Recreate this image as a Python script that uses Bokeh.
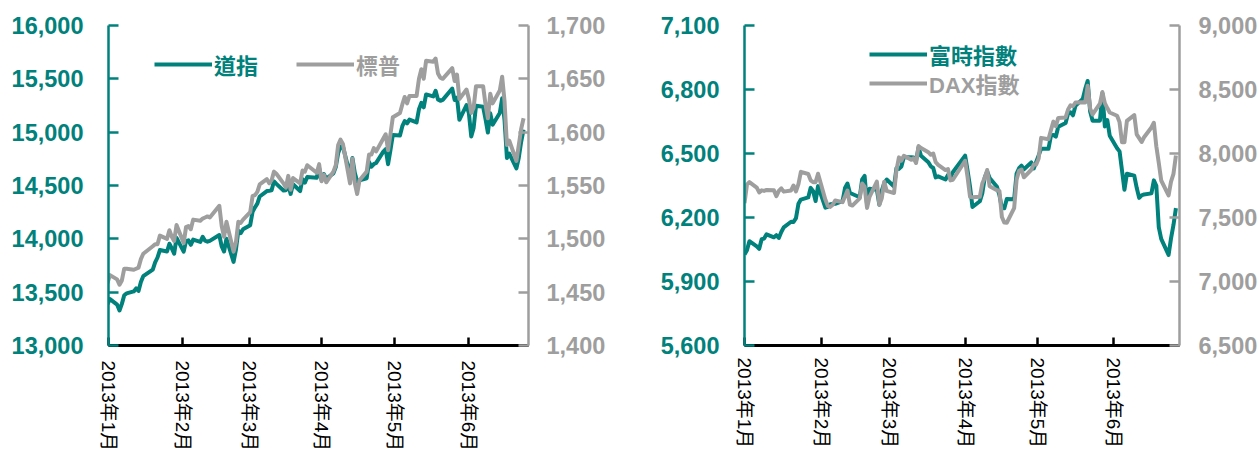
import numpy as np
import pandas as pd
from bokeh.plotting import figure
from bokeh.models import (Range1d, LinearAxis, FixedTicker, NumeralTickFormatter,
                          Legend, LegendItem, CustomJSTickFormatter)
from bokeh.layouts import row
from bokeh.embed import file_html
from bokeh.resources import INLINE

TEAL = "#00817C"
GRAY = "#9E9E9E"
FONT = "Liberation Sans, Noto Sans CJK TC"

# ---------------- data ----------------
us_dates = ["01-02", "01-03", "01-04", "01-07", "01-08", "01-09", "01-10", "01-11", "01-14", "01-15",
            "01-16", "01-17", "01-18", "01-22", "01-23", "01-24", "01-25", "01-28", "01-29", "01-30", "01-31",
            "02-01", "02-04", "02-05", "02-06", "02-07", "02-08", "02-11", "02-12", "02-13", "02-14",
            "02-15", "02-19", "02-20", "02-21", "02-22", "02-25", "02-26", "02-27", "02-28",
            "03-01", "03-04", "03-05", "03-06", "03-07", "03-08", "03-11", "03-12", "03-13", "03-14",
            "03-15", "03-18", "03-19", "03-20", "03-21", "03-22", "03-25", "03-26", "03-27", "03-28",
            "04-01", "04-02", "04-03", "04-04", "04-05", "04-08", "04-09", "04-10", "04-11", "04-12",
            "04-15", "04-16", "04-17", "04-18", "04-19", "04-22", "04-23", "04-24", "04-25", "04-26",
            "04-29", "04-30",
            "05-01", "05-02", "05-03", "05-06", "05-07", "05-08", "05-09", "05-10", "05-13", "05-14",
            "05-15", "05-16", "05-17", "05-20", "05-21", "05-22", "05-23", "05-24", "05-28", "05-29",
            "05-30", "05-31",
            "06-03", "06-04", "06-05", "06-06", "06-07", "06-10", "06-11", "06-12", "06-13", "06-14",
            "06-17", "06-18", "06-19", "06-20", "06-21", "06-24", "06-25", "06-26", "06-27"]
dow = [13412, 13391, 13435, 13384, 13328, 13390, 13471, 13488, 13507, 13535,
       13511, 13596, 13650, 13712, 13779, 13825, 13895, 13881, 13954, 13910, 13861,
       14009, 13880, 13979, 13986, 13944, 13993, 13971, 14019, 13982, 13973,
       13981, 14036, 13928, 13881, 14001, 13784, 13900, 14076, 14054,
       14090, 14128, 14254, 14296, 14329, 14397, 14448, 14451, 14455, 14539,
       14515, 14453, 14456, 14512, 14421, 14512, 14448, 14559, 14527, 14579,
       14573, 14662, 14550, 14607, 14565, 14614, 14673, 14803, 14866, 14865,
       14600, 14757, 14619, 14538, 14548, 14568, 14720, 14676, 14701, 14712,
       14818, 14840,
       14700, 14831, 14973, 14969, 15056, 15105, 15082, 15118, 15091, 15215,
       15275, 15233, 15354, 15335, 15388, 15307, 15294, 15303, 15409, 15302,
       15324, 15116,
       15254, 15177, 14960, 15040, 15248, 15238, 15122, 14996, 15177, 15070,
       15180, 15318, 15112, 14758, 14800, 14660, 14760, 14910, 15024]
sp500 = [1462, 1459, 1466, 1462, 1457, 1461, 1472, 1472, 1471, 1472,
         1473, 1481, 1486, 1493, 1495, 1495, 1503, 1500, 1508, 1502, 1498,
         1513, 1496, 1511, 1512, 1509, 1518, 1517, 1519, 1520, 1521,
         1520, 1531, 1512, 1502, 1516, 1488, 1497, 1516, 1515,
         1518, 1525, 1540, 1541, 1544, 1551, 1556, 1552, 1555, 1563,
         1561, 1552, 1548, 1559, 1546, 1557, 1552, 1564, 1563, 1569,
         1562, 1570, 1554, 1560, 1553, 1563, 1569, 1588, 1593, 1589,
         1552, 1575, 1552, 1542, 1555, 1563, 1579, 1579, 1585, 1582,
         1594, 1598,
         1583, 1598, 1614, 1618, 1626, 1633, 1627, 1634, 1634, 1650,
         1659, 1650, 1667, 1666, 1669, 1655, 1651, 1650, 1660, 1648,
         1654, 1631,
         1640, 1631, 1618, 1623, 1643, 1643, 1626, 1613, 1636, 1627,
         1639, 1652, 1629, 1588, 1592, 1573, 1588, 1603, 1613]

eu_dates = ["01-02", "01-03", "01-04", "01-07", "01-08", "01-09", "01-10", "01-11", "01-14", "01-15",
            "01-16", "01-17", "01-18", "01-21", "01-22", "01-23", "01-24", "01-25", "01-28", "01-29",
            "01-30", "01-31",
            "02-01", "02-04", "02-05", "02-06", "02-07", "02-08", "02-11", "02-12", "02-13", "02-14",
            "02-15", "02-18", "02-19", "02-20", "02-21", "02-22", "02-25", "02-26", "02-27", "02-28",
            "03-01", "03-04", "03-05", "03-06", "03-07", "03-08", "03-11", "03-12", "03-13", "03-14",
            "03-15", "03-18", "03-19", "03-20", "03-21", "03-22", "03-25", "03-26", "03-27", "03-28",
            "04-02", "04-03", "04-04", "04-05", "04-08", "04-09", "04-10", "04-11", "04-12", "04-15",
            "04-16", "04-17", "04-18", "04-19", "04-22", "04-23", "04-24", "04-25", "04-26", "04-29",
            "04-30",
            "05-01", "05-02", "05-03", "05-06", "05-07", "05-08", "05-09", "05-10", "05-13", "05-14",
            "05-15", "05-16", "05-17", "05-20", "05-21", "05-22", "05-23", "05-24", "05-27", "05-28",
            "05-29", "05-30", "05-31",
            "06-03", "06-04", "06-05", "06-06", "06-07", "06-10", "06-11", "06-12", "06-13", "06-14",
            "06-17", "06-18", "06-19", "06-20", "06-21", "06-24", "06-25", "06-26", "06-27"]
ftse = [6027, 6047, 6089, 6065, 6053, 6098, 6101, 6121, 6107, 6117,
        6104, 6132, 6154, 6180, 6179, 6197, 6264, 6284, 6294, 6339,
        6323, 6277,
        6347, 6246, 6250, 6262, 6263, 6264, 6277, 6338, 6359, 6315,
        6310, 6295, 6379, 6395, 6260, 6335, 6330, 6260, 6326, 6361,
        6378, 6345, 6432, 6428, 6439, 6483, 6483, 6481, 6466, 6529,
        6489, 6459, 6440, 6432, 6388, 6393, 6378, 6399, 6387, 6412,
        6490, 6420, 6345, 6249, 6276, 6313, 6387, 6416, 6385, 6344,
        6305, 6244, 6243, 6287, 6286, 6406, 6431, 6443, 6426, 6458,
        6430,
        6460, 6491, 6522, 6522, 6583, 6587, 6579, 6625, 6643, 6687,
        6693, 6679, 6723, 6756, 6803, 6840, 6697, 6654, 6654, 6783,
        6627, 6657, 6583,
        6525, 6510, 6420, 6330, 6405, 6396, 6339, 6292, 6304, 6308,
        6313, 6374, 6349, 6155, 6100, 6025, 6102, 6165, 6244]
dax = [7612, 7756, 7776, 7733, 7696, 7712, 7708, 7715, 7712, 7666,
       7708, 7728, 7702, 7711, 7750, 7704, 7760, 7857, 7840, 7790,
       7776, 7776,
       7842, 7638, 7590, 7583, 7600, 7633, 7620, 7664, 7710, 7600,
       7593, 7650, 7765, 7740, 7575, 7662, 7780, 7600, 7650, 7780,
       7708, 7691, 7870, 7970, 7945, 7982, 7952, 7963, 7926, 8058,
       8043, 8010, 7990, 8000, 7932, 7912, 7871, 7879, 7790, 7795,
       7943, 7817, 7662, 7658, 7662, 7765, 7810, 7871, 7744, 7713,
       7707, 7504, 7460, 7459, 7573, 7796, 7865, 7875, 7814, 7873,
       7914,
       7914, 7961, 8122, 8112, 8181, 8249, 8213, 8278, 8282, 8344,
       8377, 8369, 8398, 8400, 8398, 8530, 8352, 8305, 8389, 8480,
       8394, 8355, 8320,
       8295, 8245, 8087, 8087, 8255, 8300, 8150, 8120, 8090, 8127,
       8203, 8240, 8057, 7928, 7789, 7673, 7780, 7841, 7985]

month_labels = ["2013年1月", "2013年2月", "2013年3月", "2013年4月", "2013年5月", "2013年6月"]
# tick positions
left_ticks = ["2013-01-03 09:00", "2013-02-03 12:00", "2013-03-03 17:00",
              "2013-04-03 00:00", "2013-05-03 17:00", "2013-06-03 22:00"]
left_xlim = ["2013-01-03 09:00", "2013-06-29 02:00"]
right_ticks = ["2013-01-02 00:00", "2013-02-02 07:00", "2013-03-02 00:00",
               "2013-04-02 00:00", "2013-05-01 17:00", "2013-06-01 14:00"]
right_xlim = ["2013-01-02 00:00", "2013-06-28 11:00"]

dow_ticks = [13000, 13500, 14000, 14500, 15000, 15500, 16000]
sp_ticks = [1400, 1450, 1500, 1550, 1600, 1650, 1700]
ftse_ticks = [5600, 5900, 6200, 6500, 6800, 7100]
dax_ticks = [6500, 7000, 7500, 8000, 8500, 9000]

H = 454


def ms(s):
    return pd.Timestamp(s).value / 1e6


def style_y(ax, color, ticks, standoff):
    ax.ticker = FixedTicker(ticks=ticks)
    ax.formatter = NumeralTickFormatter(format="0,0")
    ax.axis_line_color = color
    ax.axis_line_width = 2.5
    ax.major_tick_line_color = color
    ax.major_tick_line_width = 2.5
    ax.major_tick_in = 10
    ax.major_tick_out = 0
    ax.minor_tick_line_color = None
    ax.major_label_text_color = color
    ax.major_label_text_font = "Liberation Sans"
    ax.major_label_text_font_style = "bold"
    ax.major_label_text_font_size = "23.5px"
    ax.major_label_standoff = standoff


def make_chart(width, borders, xlim, ticks, yl, yr, dates, s1, s2, t1, t2,
               ticks_l, ticks_r, standoff_r, legend_specs, x_standoff):
    bl, br, bt, bb = borders
    p = figure(width=width, height=H, x_axis_type="datetime",
               x_range=Range1d(ms(xlim[0]), ms(xlim[1])),
               y_range=Range1d(*yl),
               min_border_left=bl, min_border_right=br,
               min_border_top=bt, min_border_bottom=bb,
               toolbar_location=None, output_backend="svg",
               outline_line_color=None, background_fill_color="white",
               border_fill_color="white")
    p.extra_y_ranges = {"r": Range1d(*yr)}
    p.xgrid.visible = False
    p.ygrid.visible = False

    x = pd.to_datetime(["2013-" + d for d in dates])
    r1 = p.line(x, s1, line_width=4, color=TEAL, line_join="round")
    r2 = p.line(x, s2, line_width=4, color=GRAY, line_join="round", y_range_name="r")

    style_y(p.yaxis[0], TEAL, ticks_l, 25)
    ra = LinearAxis(y_range_name="r")
    style_y(ra, GRAY, ticks_r, standoff_r)
    p.add_layout(ra, "right")

    xa = p.xaxis[0]
    xa.ticker = FixedTicker(ticks=[ms(t) for t in ticks])
    xa.formatter = CustomJSTickFormatter(args=dict(labels=month_labels),
                                         code="return labels[index] || ''")
    xa.major_label_orientation = "vertical"
    xa.major_label_text_font = FONT
    xa.major_label_text_font_size = "19px"
    xa.major_label_text_color = "black"
    xa.major_label_standoff = x_standoff
    xa.axis_line_color = "black"
    xa.axis_line_width = 3
    xa.major_tick_line_color = "black"
    xa.major_tick_line_width = 2.5
    xa.major_tick_in = 8
    xa.major_tick_out = 0
    xa.minor_tick_line_color = None

    for (txt, rend, col, loc) in [(t1, r1, TEAL, legend_specs[0]), (t2, r2, GRAY, legend_specs[1])]:
        lg = Legend(items=[LegendItem(label=txt, renderers=[rend])], location=loc,
                    orientation="horizontal", glyph_width=58, glyph_height=24,
                    label_height=24, label_standoff=2, padding=0, margin=0, spacing=0,
                    border_line_alpha=0, background_fill_alpha=0,
                    label_text_font=FONT, label_text_font_style="bold",
                    label_text_font_size="22px", label_text_color=col)
        p.add_layout(lg)
    return p


left = make_chart(640, (108, 112, 25, 107), left_xlim, left_ticks,
                  (13000, 16000), (1400, 1700), us_dates, dow, sp500, "道指", "標普",
                  dow_ticks, sp_ticks, 18, [(46, 265), (188, 265)], 15)
right = make_chart(620, (104, 80, 24, 104), right_xlim, right_ticks,
                   (5600, 7100), (6500, 9000), eu_dates, ftse, dax, "富時指數", "DAX指數",
                   ftse_ticks, dax_ticks, 19, [(125, 275), (125, 246)], 12)

layout = row(left, right)
open("out.html", "w").write(file_html(layout, INLINE))
